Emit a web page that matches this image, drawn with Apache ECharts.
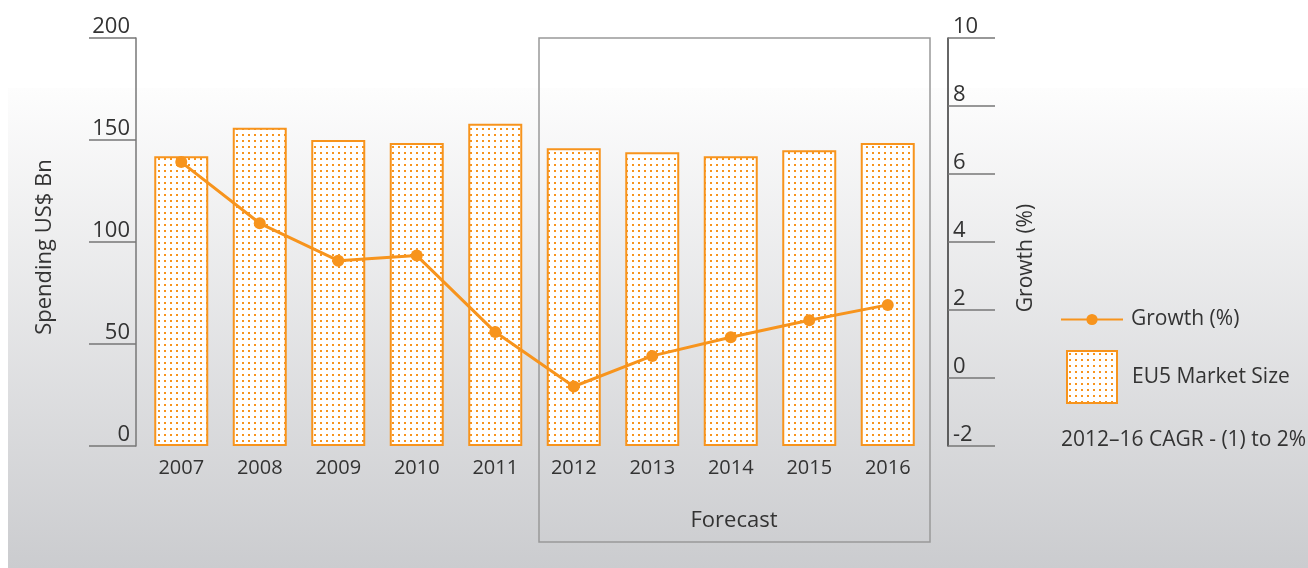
<!DOCTYPE html>
<html>
<head>
<meta charset="utf-8">
<script src="https://cdn.jsdelivr.net/npm/echarts@6/dist/echarts.min.js"></script>
<style>
  html, body { margin: 0; padding: 0; background: #fff; }
  .wrap { position: relative; width: 1308px; height: 568px; }
  .bg {
    position: absolute; left: 8px; top: 88px; right: 0; bottom: 0;
    background: linear-gradient(#fdfdfd, #cbcccf);
  }
  #chart { position: absolute; left: 0; top: 0; width: 1308px; height: 568px; }
</style>
</head>
<body>
<div class="wrap">
  <div class="bg"></div>
  <div id="chart"></div>
</div>
<script>
const years = ['2007', '2008', '2009', '2010', '2011', '2012', '2013', '2014', '2015', '2016']
const marketSize = [142, 156, 150, 148.5, 158, 146, 144, 142, 145, 148.5]
const growth = [6.35, 4.55, 3.45, 3.6, 1.35, -0.25, 0.65, 1.2, 1.7, 2.15]
const spendTicks = [0, 50, 100, 150, 200]
const growthTicks = [-2, 0, 2, 4, 6, 8, 10]

const orange = '#f7941d'
const textColor = '#333'
const font = 'Open Sans'

// dotted fill for the bars
function dotPattern() {
  const c = document.createElement('canvas')
  c.width = 6
  c.height = 6
  const ctx = c.getContext('2d')
  ctx.fillStyle = '#fff'
  ctx.fillRect(0, 0, 6, 6)
  ctx.fillStyle = orange
  ctx.fillRect(2, 2, 2, 2)
  return c
}
const dots = { image: dotPattern(), repeat: 'repeat' }

const chart = echarts.init(document.getElementById('chart'))
const option = {
  animation: false,
  textStyle: { fontFamily: font },
  grid: { left: 142, right: 381, top: 38, bottom: 122 },
  legend: [
    {
      data: ['Growth (%)'],
      left: 1060, top: 309, padding: 0,
      itemWidth: 62, itemHeight: 14,
      textStyle: { fontSize: 21, color: textColor, fontFamily: font, padding: [0, 0, 0, 3] }
    },
    {
      data: [{ name: 'EU5 Market Size', icon: 'rect' }],
      left: 1066, top: 350, padding: 0,
      itemWidth: 50, itemHeight: 52,
      textStyle: { fontSize: 21, color: textColor, fontFamily: font, padding: [0, 0, 0, 10] }
    }
  ],
  xAxis: {
    type: 'category',
    data: years,
    axisLine: { show: false },
    axisTick: { show: false },
    axisLabel: { color: textColor, fontSize: 20, margin: 12, fontFamily: font }
  },
  yAxis: [
    {
      type: 'value',
      min: spendTicks[0], max: spendTicks[spendTicks.length - 1], interval: 50,
      offset: 6,
      name: 'Spending US$ Bn',
      nameLocation: 'middle',
      nameRotate: 90,
      nameGap: 80,
      nameTextStyle: { color: textColor, fontSize: 22, fontFamily: font, padding: [0, 10, 0, 0] },
      axisLine: { show: true, lineStyle: { color: '#777', width: 1.5 } },
      axisTick: { show: true, length: 47, lineStyle: { color: '#777', width: 1.5 } },
      axisLabel: { color: textColor, fontSize: 22, margin: 6, verticalAlign: 'bottom', fontFamily: font },
      splitLine: { show: false }
    },
    {
      type: 'value',
      position: 'right',
      min: growthTicks[0], max: growthTicks[growthTicks.length - 1], interval: 2,
      offset: 21,
      name: 'Growth (%)',
      nameLocation: 'middle',
      nameRotate: 90,
      nameGap: 68,
      nameTextStyle: { color: textColor, fontSize: 21, fontFamily: font, padding: [0, 32, 0, 0] },
      axisLine: { show: true, lineStyle: { color: '#333', width: 1.5 } },
      axisTick: { show: true, length: 47, lineStyle: { color: '#777', width: 1.5 } },
      axisLabel: { color: textColor, fontSize: 22, margin: 5, verticalAlign: 'bottom', fontFamily: font },
      splitLine: { show: false }
    }
  ],
  series: [
    {
      name: 'EU5 Market Size',
      type: 'bar',
      data: marketSize,
      barWidth: 54,
      itemStyle: { color: dots, borderColor: orange, borderWidth: 2 }
    },
    {
      name: 'Growth (%)',
      type: 'line',
      yAxisIndex: 1,
      data: growth,
      symbol: 'circle',
      symbolSize: 12,
      lineStyle: { color: orange, width: 3 },
      itemStyle: { color: orange }
    }
  ],
  graphic: [
    {
      type: 'rect',
      shape: { x: 539, y: 38, width: 391, height: 504 },
      style: { fill: 'none', stroke: '#999', lineWidth: 1.5 },
      z: 0
    },
    {
      type: 'text',
      x: 734, y: 521,
      style: { text: 'Forecast', fill: textColor, font: '22px "Open Sans"', align: 'center', verticalAlign: 'middle' }
    },
    {
      type: 'text',
      x: 1061, y: 440,
      style: { text: '2012–16 CAGR - (1) to 2%', fill: textColor, font: '21px "Open Sans"', align: 'left', verticalAlign: 'middle' }
    }
  ]
}
chart.setOption(option)
</script>
</body>
</html>
